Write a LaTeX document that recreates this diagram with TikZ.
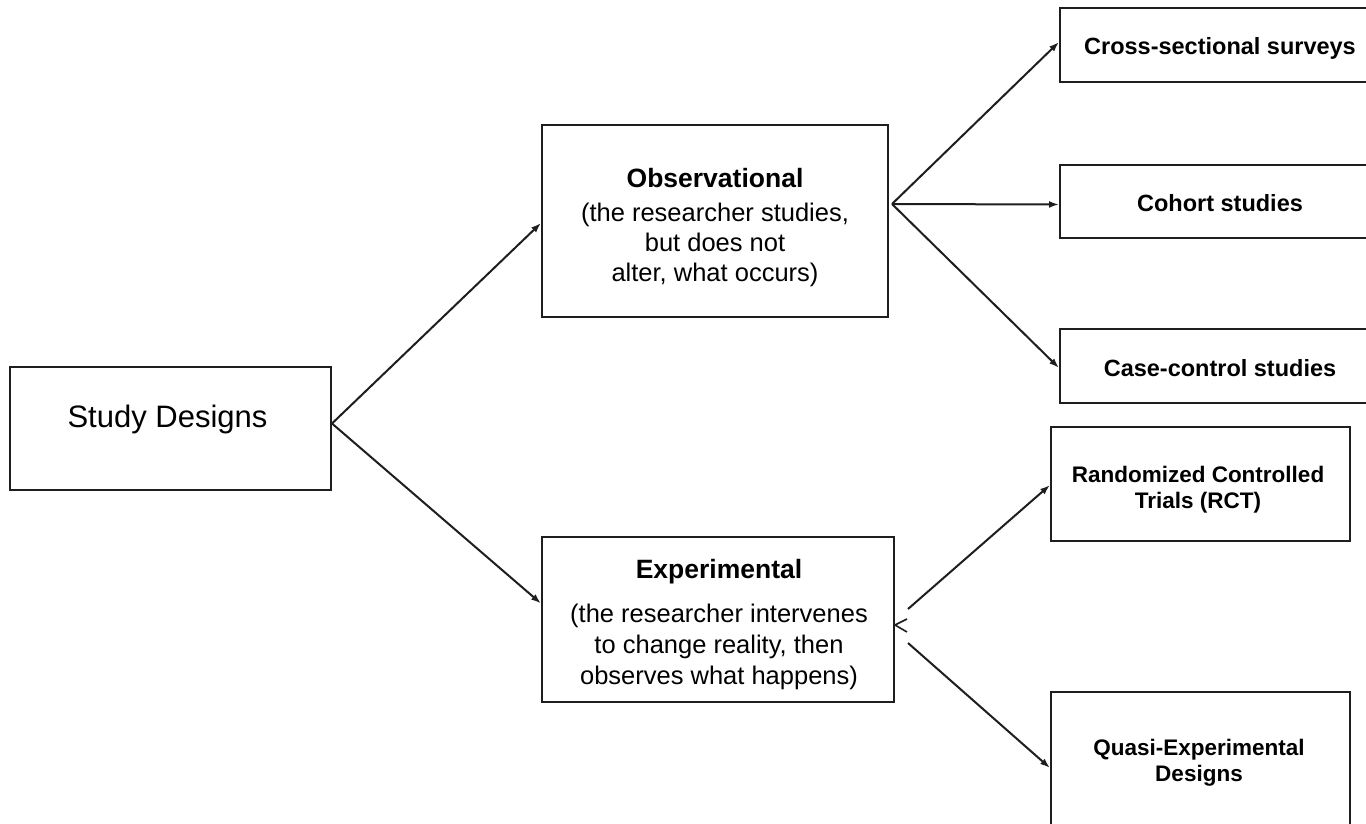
\documentclass[tikz,border=0pt]{standalone}
\usepackage{fontspec}
\setmainfont{Liberation Sans}
\usetikzlibrary{arrows.meta,calc}
\definecolor{ink}{HTML}{1E1E1E}
\tikzset{
  box/.style={draw=ink, line width=2pt, fill=white, inner sep=0pt},
  txt/.style={align=center, text=black, inner sep=0pt},
  conn/.style={draw=ink, line width=2pt},
  arr/.style={conn, -{Latex[length=10pt,width=7pt]}},
  normtxt/.style={txt, font=\fontsize{25.5}{30}\selectfont},
  smtxt/.style={txt, font=\bfseries\fontsize{23.5}{27}\selectfont},
  rctxt/.style={txt, font=\bfseries\fontsize{22.5}{26}\selectfont},
}
\begin{document}
\begin{tikzpicture}[x=1pt,y=-1pt]
\useasboundingbox (0,0) rectangle (1366,824);
\clip (0,0) rectangle (1366,824);
\fill[white] (0,0) rectangle (1366,824);

\node[box, minimum width=321pt, minimum height=123pt] (study) at (170.5,428.5) {};
\node[txt, anchor=base, font=\fontsize{31}{36}\selectfont] (studyt) at (167.5,427) {Study Designs};

\node[box, minimum width=346pt, minimum height=192pt] (obs) at (715,221) {};
\node[normtxt] (obst) at (715,227.5)
  {{\bfseries\fontsize{26.5}{30}\selectfont Observational}\\[4pt](the researcher studies,\\but does not\\alter, what occurs)};

\node[box, minimum width=352pt, minimum height=165pt] (exp) at (718,619.5) {};
\node[normtxt, font=\fontsize{25.5}{31}\selectfont] (expt) at (719,625)
  {{\bfseries\fontsize{26.5}{30}\selectfont Experimental}\\[13pt](the researcher intervenes\\to change reality, then\\observes what happens)};

\node[box, minimum width=320pt, minimum height=74pt] (cross) at (1220,45) {};
\node[smtxt] (crosst) at (1220,48) {Cross-sectional surveys};
\node[box, minimum width=320pt, minimum height=73pt] (cohort) at (1220,201.5) {};
\node[smtxt] (cohortt) at (1220,203) {Cohort studies};
\node[box, minimum width=320pt, minimum height=74pt] (case) at (1220,366) {};
\node[smtxt] (caset) at (1220,368) {Case-control studies};
\node[box, minimum width=299pt, minimum height=114pt] (rct) at (1200.5,484) {};
\node[rctxt] (rctt) at (1198,490) {Randomized Controlled\\Trials (RCT)};
\node[box, minimum width=299pt, minimum height=136pt] (quasi) at (1200.5,760) {};
\node[rctxt] (quasit) at (1199,763) {Quasi-Experimental\\Designs};

% connectors from Study Designs
\coordinate (so) at ([yshift=5pt]study.east);
\draw[arr] (so) -- ([yshift=-2pt]obs.west);
\draw[arr] (so) -- ([yshift=16pt]exp.west);

% connectors from Observational
\coordinate (ob) at ([xshift=3pt,yshift=17pt]obs.east);
\draw[arr] (ob) -- ([yshift=3pt]cross.west);
\draw[arr] (ob) -- ([yshift=-3pt]cohort.west);
\draw[arr] (ob) -- ([yshift=-2pt]case.west);

% connectors from Experimental
\coordinate (et) at ([yshift=-5.5pt]exp.east);
\coordinate (e1) at ([xshift=13pt,yshift=16pt]et);
\coordinate (e2) at ([xshift=13pt,yshift=-18pt]et);
\draw[arr] (e1) -- ([yshift=-1pt]rct.west);
\draw[arr] (e2) -- ([yshift=-8pt]quasi.west);
\draw[conn, line width=1.6pt] ([xshift=12pt,yshift=6pt]et) -- (et) -- ([xshift=12pt,yshift=-7pt]et);
\end{tikzpicture}
\end{document}
